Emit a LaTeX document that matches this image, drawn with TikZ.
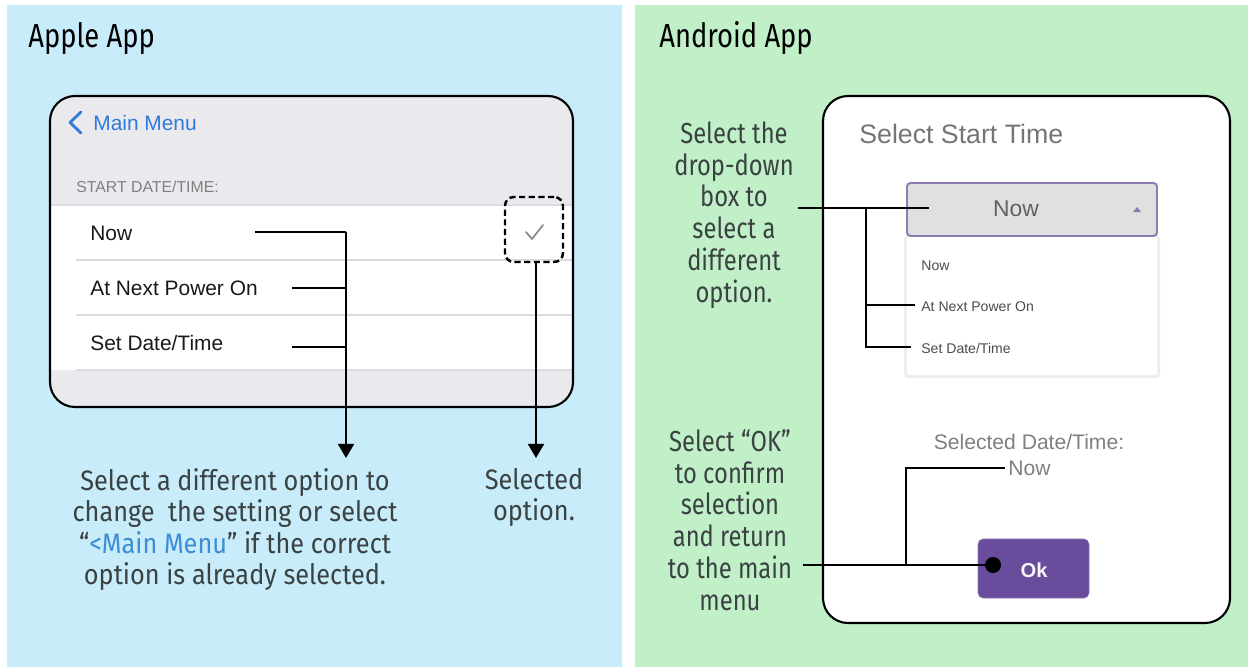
\documentclass[tikz,border=0pt]{standalone}
\usepackage{fontspec}
\setmainfont{Liberation Sans}
\newfontfamily\cfont[FakeStretch=0.82]{Fira Sans}
\newfontfamily\cfontw[FakeStretch=0.9]{Fira Sans}
\usetikzlibrary{arrows.meta}
\definecolor{bluepanel}{HTML}{C8ECFA}
\definecolor{greenpanel}{HTML}{C1F0C8}
\definecolor{iosgray}{HTML}{EAE9EE}
\definecolor{iosline}{HTML}{DCDCE0}
\definecolor{iosblue}{HTML}{2F7BD9}
\definecolor{calloutgray}{HTML}{3A4242}
\definecolor{calloutblue}{HTML}{3C8DD6}
\definecolor{andgray}{HTML}{757575}
\definecolor{ddgray}{HTML}{E0E0E0}
\definecolor{ddpurple}{HTML}{8C7BB0}
\definecolor{okpurple}{HTML}{6A4C9C}
\tikzset{
  screen/.style={draw=black, line width=1.2pt, rounded corners=0.5cm},
  title/.style={font=\cfont\fontsize{19}{22}\selectfont, text=black, inner sep=0},
  ios/.style={font=\fontsize{11.9}{14}\selectfont, text=black!90, inner sep=0},
  calla/.style={font=\cfontw\fontsize{16}{18}\selectfont, text=calloutgray, align=center, inner sep=0},
  callb/.style={font=\cfont\fontsize{16.5}{18.1}\selectfont, text=calloutgray, align=center, inner sep=0},
  andtxt/.style={font=\fontsize{12}{14}\selectfont, text=andgray, inner sep=0},
  listtxt/.style={font=\fontsize{8}{10}\selectfont, text=black!70, inner sep=0},
  conn/.style={draw=black, line width=1.5pt},
  arr/.style={conn, -{Triangle[width=9pt,length=8pt]}},
}
\begin{document}
\begin{tikzpicture}[x=0.02cm,y=-0.02cm]
\useasboundingbox (0,0) rectangle (1253,670);
\fill[white] (0,0) rectangle (1253,670);
% panels
\fill[bluepanel] (7,5) rectangle (622,667);
\fill[greenpanel] (635,5) rectangle (1248,667);
% titles
\node[title, anchor=base west] (tapple) at (28,47) {Apple App};
\node[title, anchor=base west] (tandroid) at (659,47) {Android App};

% ---------------- Apple screen
\fill[iosgray, rounded corners=0.5cm] (50,96) rectangle (573,407);
\fill[white] (51,205) rectangle (572,370);
\draw[iosline, line width=0.8pt] (51,205) -- (572,205);
\draw[iosline, line width=0.8pt] (76,260) -- (572,260);
\draw[iosline, line width=0.8pt] (76,315) -- (572,315);
\draw[iosline, line width=0.8pt] (76,370) -- (572,370);
\draw[screen] (50,96) rectangle (573,407);
\draw[iosblue, line width=1.6pt, line cap=round, line join=round] (81,112) -- (70,122.5) -- (81,133);
\node[ios, text=iosblue, anchor=base west] (mainmenu) at (93,130) {Main Menu};
\node[font=\fontsize{9}{11}\selectfont, text=black!50, inner sep=0, anchor=base west] (hdr) at (76,192.5) {START DATE/TIME:};
\node[ios, anchor=base west] (inow) at (90,240.5) {Now};
\node[ios, anchor=base west] (inext) at (90,295.5) {At Next Power On};
\node[ios, anchor=base west] (iset) at (90,350.5) {Set Date/Time};
% checkmark and dashed box
\node[draw=black, dash pattern=on 3.5pt off 2pt, line width=1.4pt, rounded corners=5pt, inner sep=0,
      minimum width=1.16cm, minimum height=1.3cm] (selbox) at (534,229.5) {};
\draw[black!45, line width=1pt, line cap=round, line join=round] (526,232) -- (532,239) -- (543,225);

% Apple callouts
\node[calla] (calltxt) at (235,529.5) {Select a different option to\\change~ the setting or select\\“{\color{calloutblue}<Main Menu}” if the correct\\option is already selected.};
\node[calla] (seltxt) at (534,497.5) {Selected\\option.};
\coordinate (a1) at (255,232);
\coordinate (a2) at (292,288);
\coordinate (a3) at (292,347);
\coordinate (aj1) at (346,232);
\coordinate (aj2) at (346,288);
\coordinate (aj3) at (346,347);
\coordinate (atip) at (346,458);
\coordinate (btip) at (536,458);
\draw[conn] (a1) -- (aj1);
\draw[conn] (a2) -- (aj2);
\draw[conn] (a3) -- (aj3);
\draw[arr] (aj1) -- (atip);
\draw[arr] (selbox.south -| btip) -- (btip);

% ---------------- Android screen
\draw[screen, fill=white] (823,96) rectangle (1230,623);
\node[font=\fontsize{15.2}{18}\selectfont, text=andgray, inner sep=0, anchor=base west] (sst) at (859,143) {Select Start Time};
% list
\fill[black!7, rounded corners=2pt] (904,236) rectangle (1160,378);
\fill[white, rounded corners=1pt] (907,236) rectangle (1157,375);
\node[listtxt, anchor=west] (lnow) at (921,266) {Now};
\node[listtxt, anchor=west] (lnext) at (921,307) {At Next Power On};
\node[listtxt, anchor=west] (lset) at (921,348) {Set Date/Time};
% dropdown
\draw[fill=ddgray, draw=ddpurple, line width=1.1pt, rounded corners=2pt] (907,183) rectangle (1157,236);
\node[font=\fontsize{13}{15}\selectfont, text=black!62, inner sep=0] (ddnow) at (1016,209) {Now};
\fill[ddpurple] (1133,212) -- (1141,212) -- (1137,207) -- cycle;
% selected
\node[andtxt, text=black!50, anchor=base] (seldt) at (1029,449) {Selected Date/Time:};
\node[andtxt, text=black!50, anchor=base west] (selnow) at (1008,475) {Now};
% ok button
\draw[fill=okpurple, draw=okpurple!80, rounded corners=3pt] (978,539) rectangle (1089,598);
\node[font=\bfseries\fontsize{11.5}{14}\selectfont, text=white!95!okpurple, inner sep=0] (ok) at (1034,570) {Ok};

% Android callouts
\node[callb] (ddtxt) at (734,215) {Select the\\drop-down\\box to\\select a\\different\\option.};
\node[callb] (oktxt) at (730,520) {Select “OK”\\to confirm\\selection\\and return\\to the main\\menu};
\coordinate (d0) at (798,208);
\coordinate (dj) at (866,208);
\coordinate (d1) at (929,208);
\coordinate (dj2) at (866,305);
\coordinate (dj3) at (866,347);
\coordinate (d2) at (915,305);
\coordinate (d3) at (911,347);
\draw[conn] (d0) -- (d1);
\draw[conn] (dj) -- (dj3) -- (d3);
\draw[conn] (dj2) -- (d2);
\coordinate (o0) at (803,565);
\coordinate (oj) at (906,565);
\coordinate (oj2) at (906,468);
\coordinate (o2) at (1005,468);
\coordinate (odot) at (993,565);
\draw[conn] (o0) -- (odot);
\draw[conn] (oj) -- (oj2) -- (o2);
\fill[black] (odot) circle (8);
\end{tikzpicture}
\end{document}
